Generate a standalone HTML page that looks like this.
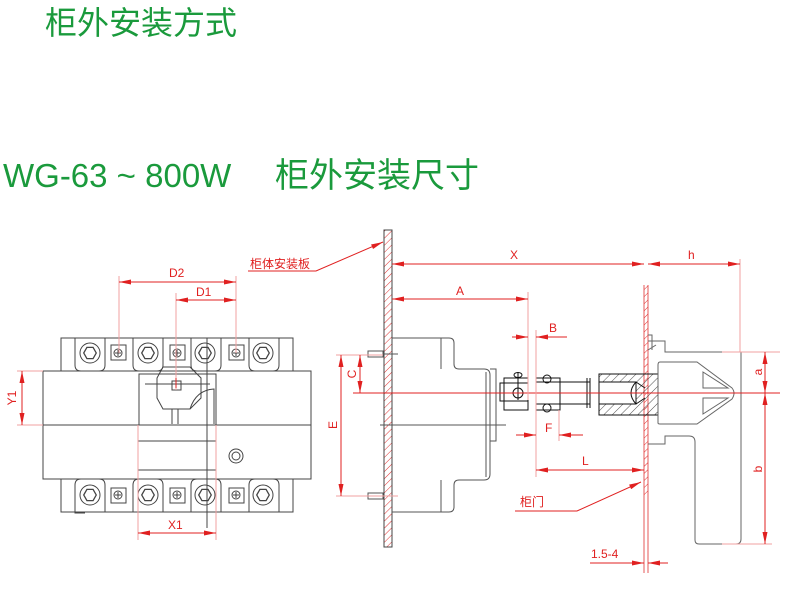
<!DOCTYPE html>
<html><head><meta charset="utf-8"><style>
body{margin:0;background:#fff;width:790px;height:591px;overflow:hidden}
svg{position:absolute;left:0;top:0}
.t{font-family:"Liberation Sans","Noto Sans CJK SC",sans-serif;fill:#1a9a3c}
.r{font-family:"Liberation Sans","Noto Sans CJK SC",sans-serif;fill:#e02020;font-size:12px}
</style></head><body>
<svg width="790" height="591" viewBox="0 0 790 591">
<defs>
<pattern id="h" patternUnits="userSpaceOnUse" width="5" height="5" patternTransform="rotate(45)"><line x1="0" y1="0" x2="0" y2="5" stroke="#e03030" stroke-width="1"/></pattern>
<pattern id="hk" patternUnits="userSpaceOnUse" width="6" height="6" patternTransform="rotate(45)"><line x1="0" y1="0" x2="0" y2="6" stroke="#222" stroke-width="0.8"/></pattern>
<marker id="a" viewBox="0 0 12 5" refX="12" refY="2.5" markerWidth="12" markerHeight="5" orient="auto-start-reverse"><path d="M0,0 L12,2.5 L0,5z" fill="#e02020"/></marker>
<symbol id="hx" viewBox="-5 -5 10 10"><polygon points="-4.5,0 -2.2,-4 2.2,-4 4.5,0 2.2,4 -2.2,4" fill="none" stroke="#444" stroke-width="0.9"/></symbol>
</defs>
<text class="t" x="45" y="34" font-size="32">柜外安装方式</text>
<text class="t" x="3" y="187" font-size="33">WG-63 ~ 800W</text>
<text class="t" x="275" y="187" font-size="34">柜外安装尺寸</text>

<g fill="none" stroke="#444" stroke-width="1">
<rect x="61" y="338" width="232" height="33"/>
<rect x="43" y="371" width="268" height="108"/>
<rect x="61" y="479" width="232" height="33"/>
<line x1="43" y1="425" x2="311" y2="425"/>
<rect x="138" y="441" width="78" height="29"/>
<rect x="139" y="374" width="77" height="51"/>
<polygon points="163,367 190,367 201,378 201,398 190,409 163,409 157,398 157,378"/>
<rect x="172" y="381" width="9" height="9"/>
<line x1="145" y1="384" x2="210" y2="384"/>
<path d="M172,409 V424 M178,409 V424 M190,409 Q196,390 214,389 V424"/>
<circle cx="236" cy="456" r="7"/><circle cx="236" cy="456" r="4"/>
<line x1="207" y1="338" x2="207" y2="528"/>
</g>
<g fill="none" stroke="#444" stroke-width="1">
<path d="M75,338 V365 Q75,371 81,371 H99 Q105,371 105,365 V338"/>
<path d="M133,338 V365 Q133,371 139,371 H157 Q163,371 163,365 V338"/>
<path d="M191,338 V365 Q191,371 197,371 H215 Q221,371 221,365 V338"/>
<path d="M249,338 V365 Q249,371 255,371 H273 Q279,371 279,365 V338"/>
<circle cx="90" cy="353" r="10"/><circle cx="148" cy="353" r="10"/><circle cx="205" cy="353" r="10"/><circle cx="263" cy="353" r="10"/>
<rect x="111" y="345" width="15" height="15"/><rect x="170" y="345" width="15" height="15"/><rect x="229" y="345" width="15" height="15"/>
<circle cx="118" cy="353" r="4"/><circle cx="177" cy="353" r="4"/><circle cx="236" cy="353" r="4"/>
<path d="M85,513 H75 V485 Q75,479 81,479 H99 Q105,479 105,485 V512"/>
<path d="M133,512 V485 Q133,479 139,479 H157 Q163,479 163,485 V512"/>
<path d="M191,512 V485 Q191,479 197,479 H215 Q221,479 221,485 V512"/>
<path d="M249,512 V485 Q249,479 255,479 H273 Q279,479 279,485 V512"/>
<circle cx="90" cy="495" r="10"/><circle cx="148" cy="495" r="10"/><circle cx="205" cy="495" r="10"/><circle cx="263" cy="495" r="10"/>
<rect x="111" y="488" width="15" height="15"/><rect x="170" y="488" width="15" height="15"/><rect x="229" y="488" width="15" height="15"/>
<circle cx="118" cy="495" r="4"/><circle cx="177" cy="495" r="4"/><circle cx="236" cy="495" r="4"/>
<path d="M115,353 h6 M118,350 v6 M174,353 h6 M177,350 v6 M233,353 h6 M236,350 v6 M115,495 h6 M118,492 v6 M174,495 h6 M177,492 v6 M233,495 h6 M236,492 v6"/>
</g>
<use href="#hx" x="83" y="346" width="14" height="14"/><use href="#hx" x="141" y="346" width="14" height="14"/><use href="#hx" x="198" y="346" width="14" height="14"/><use href="#hx" x="256" y="346" width="14" height="14"/>
<use href="#hx" x="83" y="488" width="14" height="14"/><use href="#hx" x="141" y="488" width="14" height="14"/><use href="#hx" x="198" y="488" width="14" height="14"/><use href="#hx" x="256" y="488" width="14" height="14"/>
<g stroke="#f2a0a0" stroke-width="1" fill="none">
<line x1="119" y1="276" x2="119" y2="353"/><line x1="236" y1="276" x2="236" y2="353"/>
<line x1="176" y1="293" x2="176" y2="390"/>
<line x1="17" y1="371" x2="43" y2="371"/><line x1="17" y1="425" x2="43" y2="425"/>
<line x1="138" y1="425" x2="138" y2="540"/><line x1="216" y1="425" x2="216" y2="540"/>
</g>
<g stroke="#e02020" stroke-width="1" fill="none">
<line x1="119" y1="282" x2="236" y2="282" marker-start="url(#a)" marker-end="url(#a)"/>
<line x1="176" y1="300" x2="236" y2="300" marker-start="url(#a)" marker-end="url(#a)"/>
<line x1="22" y1="371" x2="22" y2="425" marker-start="url(#a)" marker-end="url(#a)"/>
<line x1="138" y1="533" x2="216" y2="533" marker-start="url(#a)" marker-end="url(#a)"/>
<line x1="176" y1="378" x2="176" y2="388"/>
</g>
<text class="r" x="169" y="277">D2</text>
<text class="r" x="196" y="296">D1</text>
<text class="r" x="168" y="529">X1</text>
<text class="r" transform="translate(16,398) rotate(-90)" text-anchor="middle">Y1</text>

<rect x="384" y="230" width="8" height="317" fill="url(#h)" stroke="#444" stroke-width="1"/>
<rect x="644" y="285" width="4" height="210" fill="url(#h)" stroke="none"/>
<g stroke="#e03030" fill="none" stroke-width="0.8"><line x1="644" y1="285" x2="644" y2="573"/><line x1="648" y1="285" x2="648" y2="573"/></g>
<g fill="none" stroke="#555" stroke-width="1">
<path d="M392,338 H449 Q454,338 454,343 V364 Q454,369 459,369 H484 Q490,369 490,375 V474 Q490,480 484,480 H459 Q454,480 454,485 V507 Q454,512 449,512 H392"/>
<path d="M441,338 V369 M441,480 V512"/>
<path d="M490,369 H496 V441 H490 M486,372 V477"/>
<line x1="380" y1="425" x2="506" y2="425"/>
<rect x="368" y="351" width="15" height="6"/><rect x="368" y="493" width="15" height="6"/>
<line x1="383" y1="354" x2="398" y2="354"/><line x1="383" y1="496" x2="398" y2="496"/>
</g>
<g fill="none" stroke="#111" stroke-width="1">
<rect x="504" y="378" width="24" height="32"/>
<rect x="500" y="383" width="28" height="18"/>
<circle cx="518" cy="393" r="5"/><line x1="518" y1="372" x2="518" y2="400"/>
<ellipse cx="518" cy="375" rx="4" ry="2.5"/>
<rect x="536" y="378" width="24" height="32"/>
<ellipse cx="547" cy="379" rx="4" ry="4"/><ellipse cx="547" cy="408" rx="4" ry="4"/>
<path d="M536,382 H590 M536,404 H590 M587,378 V408 M590,378 V408"/>
<rect x="599" y="374" width="59" height="41" fill="url(#hk)"/>
<rect x="599" y="382" width="37" height="22" fill="#fff"/>
<path d="M636,382 Q626,393 636,404 M636,382 L645,388 M636,404 L645,398"/>
</g>
<g fill="none" stroke="#666" stroke-width="1">
<path d="M648,341 H665 V352 H740 M648,444 H665 V436 H689 Q695,436 695,442 V540 Q695,544 699,544 H736 Q741,544 741,539 V352"/>
<path d="M658,365 V423 Q658,424 660,424 H697 L732,399 Q736,393 732,388 L697,362 H660 Q658,362 658,365"/>
<path d="M703,372 L728,388 H703 Z M703,398 H728 L703,414 Z"/>
<path d="M648,335 H652 V350 M648,350 L656,345"/>
</g>
<line x1="353" y1="393" x2="780" y2="393" stroke="#e02020" stroke-width="1"/>
<g stroke="#f2a0a0" stroke-width="1" fill="none">
<line x1="528" y1="292" x2="528" y2="400"/>
<line x1="536" y1="330" x2="536" y2="477"/>
<line x1="559" y1="410" x2="559" y2="441"/>
<line x1="740" y1="259" x2="740" y2="352"/>
<line x1="336" y1="355" x2="383" y2="355"/><line x1="336" y1="496" x2="398" y2="496"/>
<line x1="722" y1="352" x2="780" y2="352"/><line x1="722" y1="544" x2="772" y2="544"/>
</g>
<g stroke="#e02020" stroke-width="1" fill="none">
<line x1="392" y1="264" x2="644" y2="264" marker-start="url(#a)" marker-end="url(#a)"/>
<line x1="648" y1="264" x2="740" y2="264" marker-start="url(#a)" marker-end="url(#a)"/>
<line x1="392" y1="299" x2="528" y2="299" marker-start="url(#a)" marker-end="url(#a)"/>
<line x1="512" y1="337" x2="528" y2="337" marker-end="url(#a)"/><line x1="567" y1="337" x2="536" y2="337" marker-end="url(#a)"/>
<line x1="516" y1="435" x2="536" y2="435" marker-end="url(#a)"/><line x1="583" y1="435" x2="559" y2="435" marker-end="url(#a)"/>
<line x1="536" y1="470" x2="644" y2="470" marker-start="url(#a)" marker-end="url(#a)"/>
<line x1="360" y1="355" x2="360" y2="393" marker-start="url(#a)" marker-end="url(#a)"/>
<line x1="341" y1="355" x2="341" y2="496" marker-start="url(#a)" marker-end="url(#a)"/>
<line x1="765" y1="352" x2="765" y2="393" marker-start="url(#a)" marker-end="url(#a)"/>
<line x1="765" y1="393" x2="765" y2="544" marker-start="url(#a)" marker-end="url(#a)"/>
<line x1="590" y1="563" x2="644" y2="563" marker-end="url(#a)"/><line x1="668" y1="563" x2="648" y2="563" marker-end="url(#a)"/>
<path d="M248,271 H316 L383,242" marker-end="url(#a)"/>
<path d="M515,511 H577 L641,482" marker-end="url(#a)"/>
</g>
<text class="r" x="250" y="268">柜体安装板</text>
<text class="r" x="520" y="506">柜门</text>
<text class="r" x="510" y="259">X</text>
<text class="r" x="688" y="259">h</text>
<text class="r" x="456" y="295">A</text>
<text class="r" x="549" y="332">B</text>
<text class="r" x="545" y="432">F</text>
<text class="r" x="582" y="465">L</text>
<text class="r" x="591" y="558" font-size="11">1.5-4</text>
<text class="r" transform="translate(356,374) rotate(-90)" text-anchor="middle">C</text>
<text class="r" transform="translate(337,425) rotate(-90)" text-anchor="middle">E</text>
<text class="r" transform="translate(762,372) rotate(-90)" text-anchor="middle">a</text>
<text class="r" transform="translate(762,469) rotate(-90)" text-anchor="middle">b</text>
</svg>
</body></html>
